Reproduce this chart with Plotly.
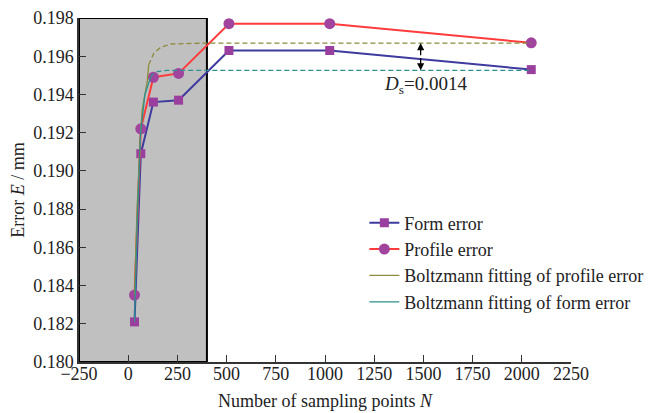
import plotly.graph_objects as go

# Data
n_points = [32, 64, 128, 256, 512, 1024, 2048]
form_error = [0.1821, 0.1909, 0.1936, 0.1937, 0.1963, 0.1963, 0.1953]
profile_error = [0.1835, 0.1922, 0.1949, 0.1951, 0.1977, 0.1977, 0.1967]

# Boltzmann fitted curves
fit_profile_n_solid = [32, 45, 60, 71, 97, 104]
fit_profile_solid = [0.1835, 0.1880, 0.1915, 0.1932, 0.1947, 0.19555]
fit_profile_n_dash = [104, 131, 165, 216, 400, 2048]
fit_profile_dash = [0.19555, 0.19617, 0.19646, 0.19664, 0.19669, 0.19669]

fit_form_n_solid = [32, 45, 63, 85, 114]
fit_form_solid = [0.1821, 0.1870, 0.1920, 0.1940, 0.1949]
fit_form_n_dash = [114, 122, 148, 200, 400, 2048]
fit_form_dash = [0.1949, 0.19503, 0.19520, 0.19526, 0.19526, 0.19526]

x_ticks = [-250, 0, 250, 500, 750, 1000, 1250, 1500, 1750, 2000, 2250]
y_ticks = [0.180, 0.182, 0.184, 0.186, 0.188, 0.190, 0.192, 0.194, 0.196, 0.198]

shade_range = [-250, 400]
ds_label_pos = (1512, 0.19451)
ds_arrow_x = 1486

FONT = "Liberation Serif"
OLIVE = "#8c8c3c"
TEAL = "#2f8f8f"

fig = go.Figure()

fig.add_trace(go.Scatter(
    x=n_points, y=form_error, mode="lines+markers", name="Form error",
    line=dict(color="#3f3a9e", width=2),
    marker=dict(symbol="square", size=9, color="#9a3f9e"),
))
fig.add_trace(go.Scatter(
    x=n_points, y=profile_error, mode="lines+markers", name="Profile error",
    line=dict(color="#ff3b3b", width=2),
    marker=dict(symbol="circle", size=11, color="#a0449e"),
))
fig.add_trace(go.Scatter(
    x=fit_profile_n_solid, y=fit_profile_solid, mode="lines",
    name="Boltzmann fitting of profile error",
    line=dict(color=OLIVE, width=1.3),
))
fig.add_trace(go.Scatter(
    x=fit_profile_n_dash, y=fit_profile_dash, mode="lines", showlegend=False,
    line=dict(color=OLIVE, width=1.3, dash="5px,3px"),
))
fig.add_trace(go.Scatter(
    x=fit_form_n_solid, y=fit_form_solid, mode="lines",
    name="Boltzmann fitting of form error",
    line=dict(color=TEAL, width=1.3),
))
fig.add_trace(go.Scatter(
    x=fit_form_n_dash, y=fit_form_dash, mode="lines", showlegend=False,
    line=dict(color=TEAL, width=1.3, dash="5px,3px"),
))

fig.add_shape(type="rect", xref="x", yref="y",
              x0=shade_range[0], x1=shade_range[1], y0=y_ticks[0], y1=y_ticks[-1],
              fillcolor="#c0c0c0", line=dict(color="black", width=2), layer="below")

# double arrow for Ds
mid = (fit_profile_dash[-1] + fit_form_dash[-1]) / 2
for target in (fit_profile_dash[-1], fit_form_dash[-1]):
    fig.add_annotation(x=ds_arrow_x, y=target, ax=ds_arrow_x, ay=mid,
                       xref="x", yref="y", axref="x", ayref="y",
                       showarrow=True, arrowhead=2, arrowsize=1.1, arrowwidth=1.3,
                       arrowcolor="black", text="")
fig.add_annotation(x=ds_label_pos[0], y=ds_label_pos[1], xref="x", yref="y",
                   text="<i>D</i><sub>s</sub>=0.0014", showarrow=False,
                   font=dict(family=FONT, size=19, color="#222"))

# page body adds an 8px offset; margins compensate so the plot area lands at 79..571 x 18..362
fig.update_layout(
    width=652, height=413,
    margin=dict(l=71, r=89, t=10, b=59, autoexpand=False),
    paper_bgcolor="white", plot_bgcolor="white",
    font=dict(family=FONT, size=18, color="#222"),
    showlegend=True,
    legend=dict(x=0.58, y=0.458, xanchor="left", yanchor="top",
                bgcolor="rgba(0,0,0,0)", font=dict(family=FONT, size=18),
                tracegroupgap=0, itemwidth=30),
)
fig.update_xaxes(
    range=[x_ticks[0], x_ticks[-1]], tickvals=x_ticks,
    ticktext=[("\u2212" + str(-v)) if v < 0 else str(v) for v in x_ticks],
    showgrid=False, zeroline=False, showline=True, linecolor="#333", linewidth=1.5,
    ticks="inside", ticklen=7, tickcolor="#333", automargin=False,
    ticklabelstandoff=-5,
    title=dict(text="Number of sampling points <i>N</i>", font=dict(size=18), standoff=11),
)
fig.update_yaxes(
    range=[y_ticks[0], y_ticks[-1]], tickvals=y_ticks, tickformat=".3f",
    showgrid=False, zeroline=False, showline=True, linecolor="#333", linewidth=1.5,
    ticks="inside", ticklen=7, tickcolor="#333", automargin=False,
    title=dict(text="Error <i>E</i> / mm", font=dict(size=18), standoff=10),
)

fig.write_html("out.html")
